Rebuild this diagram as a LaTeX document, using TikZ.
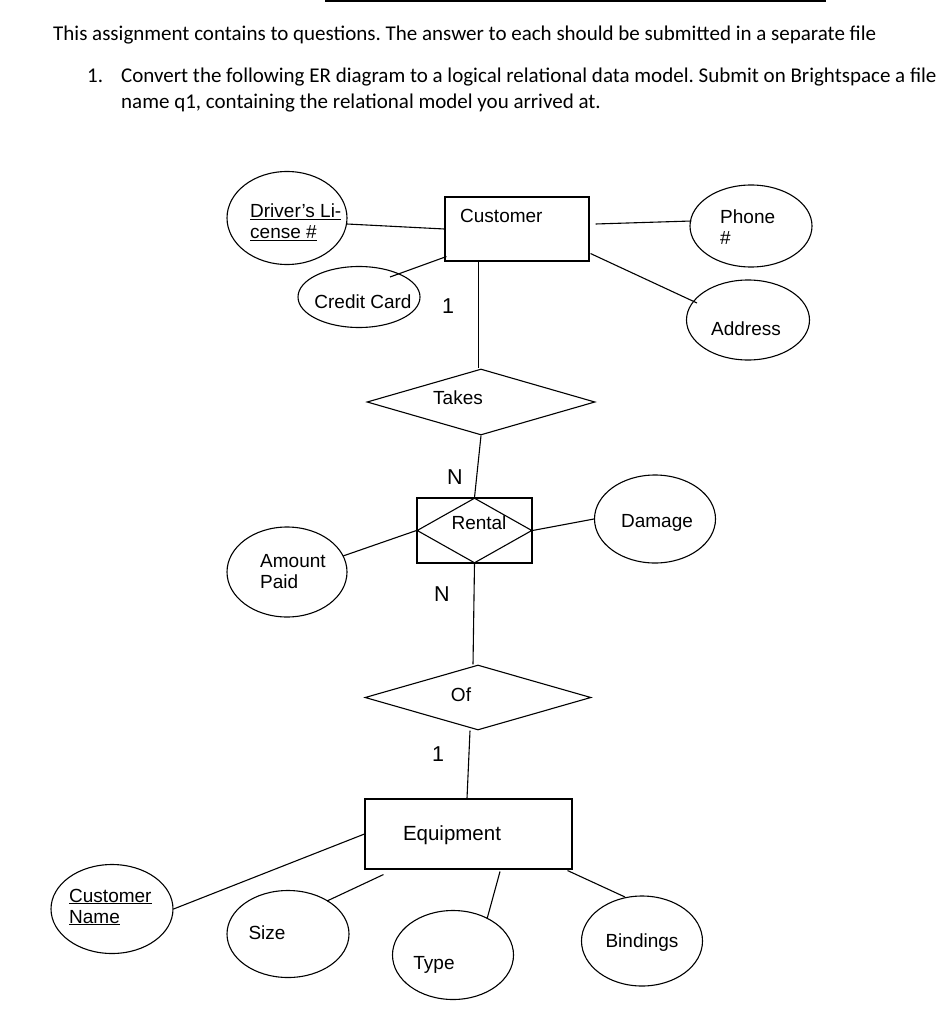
\documentclass[tikz,border=0pt]{standalone}
\usepackage{fontspec}
\setmainfont{Liberation Sans}
\newfontfamily\hdrfont{Carlito}
\usetikzlibrary{shapes.geometric,calc}
\frenchspacing
\begin{document}
\begin{tikzpicture}[x=1pt,y=-1pt,
  every node/.style={font=\fontsize{19}{21}\selectfont},
  attr/.style={draw,ellipse,line width=1.1pt,inner sep=0pt},
  ent/.style={draw,rectangle,line width=1.1pt,inner sep=0pt},
  rel/.style={draw,diamond,line width=1.1pt,inner sep=0pt},
  lbl/.style={inner sep=0pt,align=left},
  card/.style={inner sep=0pt,font=\fontsize{21.5}{24}\selectfont},
  hdr/.style={inner sep=0pt,anchor=base west,font=\hdrfont\fontsize{21}{24}\selectfont},
  conn/.style={line width=1.1pt}]
\useasboundingbox (0,0) rectangle (948,1024);
\fill[white] (0,0) rectangle (948,1024);
% top rule
\coordinate (ruleA) at (325,1.5);
\coordinate (ruleB) at (826,1.5);
\draw[line width=2pt] (ruleA) -- (ruleB);
% header
\node[hdr] (h1) at (53,40.5) {This assignment contains to questions. The answer to each should be submitted in a separate file};
\node[hdr] (h2n) at (87,83) {1.};
\node[hdr] (h2) at (121,83) {Convert the following ER diagram to a logical relational data model. Submit on Brightspace a file};
\node[hdr] (h3) at (121,109) {name q1, containing the relational model you arrived at.};
% entities
\node[ent,minimum width=144,minimum height=64] (cust) at (517,229) {};
\node[lbl,anchor=west] (custT) at (460,216) {Customer};
\node[ent,minimum width=207,minimum height=70] (equip) at (468.5,834) {};
\node[lbl,font=\fontsize{20.5}{23}\selectfont] (equipT) at (452,835) {Equipment};
\node[ent,minimum width=115,minimum height=65] (rent) at (474.5,530.5) {};
\node[rel,minimum width=115,minimum height=65] (rentD) at (474.5,530.5) {};
\node[lbl] (rentT) at (479,523) {Rental};
% relationships
\node[rel,minimum width=228,minimum height=66] (takes) at (481,402) {};
\node[lbl] (takesT) at (458,398) {Takes};
\node[rel,minimum width=226,minimum height=65] (of) at (478,697.5) {};
\node[lbl] (ofT) at (461,695) {Of};
% attributes
\node[attr,minimum width=120,minimum height=93] (dl) at (287,218) {};
\node[lbl,anchor=west] (dlT) at (250,222) {\underline{Driver's Li-}\\\underline{cense \#}};
\node[attr,minimum width=122,minimum height=61] (cc) at (359,297) {};
\node[lbl] (ccT) at (363,302) {Credit Card};
\node[attr,minimum width=122,minimum height=82] (ph) at (751,226) {};
\node[lbl,anchor=west] (phT) at (720,227) {Phone\\\#};
\node[attr,minimum width=123,minimum height=80] (addr) at (748,320) {};
\node[lbl] (addrT) at (746,329) {Address};
\node[attr,minimum width=121,minimum height=88] (dmg) at (655,519) {};
\node[lbl] (dmgT) at (657,523) {Damage};
\node[attr,minimum width=120,minimum height=90] (amt) at (287,572) {};
\node[lbl,anchor=west] (amtT) at (260,572) {Amount\\Paid};
\node[attr,minimum width=122,minimum height=89] (cn) at (112,909) {};
\node[lbl,anchor=west] (cnT) at (69,907) {\underline{Customer}\\\underline{Name}};
\node[attr,minimum width=122,minimum height=87] (sz) at (288,934) {};
\node[lbl] (szT) at (267,933) {Size};
\node[attr,minimum width=121,minimum height=89] (ty) at (453,955) {};
\node[lbl] (tyT) at (434,965) {Type};
\node[attr,minimum width=121,minimum height=90] (bd) at (642,941) {};
\node[lbl] (bdT) at (642,943) {Bindings};
% cardinalities
\node[card] (c1) at (448,306) {1};
\node[card] (cN1) at (455,477) {N};
\node[card] (cN2) at (442,594) {N};
\node[card] (c2) at (438,754) {1};
% connectors
\draw[conn] ($(dl.center)+(60,6)$) -- (cust.west);
\draw[conn] ($(cc.center)+(31,-20)$) -- ($(cust.south west)+(2,-5)$);
\draw[conn] ($(cust.east)+(6,-5)$) -- ($(ph.west)+(2,-5)$);
\draw[conn] ($(cust.south east)+(1,-8)$) -- ($(addr.center)+(-51,-17)$);
\draw[conn] ($(takes.north |- cust.south)+(-2.5,0)$) -- ($(takes.north)+(-2.5,0)$);
\draw[conn] (takes.south) -- (rentD.north);
\draw[conn] ($(amt.center)+(56,-16)$) -- (rentD.west);
\draw[conn] (rentD.east) -- (dmg.west);
\draw[conn] (rentD.south) -- ($(of.north)+(-5,0)$);
\draw[conn] ($(of.south)+(-8,0)$) -- ($(equip.north)+(-1.5,0)$);
\draw[conn] (cn.east) -- (equip.west);
\draw[conn] ($(sz.center)+(39,-33)$) -- ($(equip.south west)+(19,5)$);
\draw[conn] ($(ty.center)+(34,-36)$) -- ($(equip.south)+(31.5,2)$);
\draw[conn] ($(bd.center)+(-17,-44)$) -- ($(equip.south east)+(-5,1)$);
\end{tikzpicture}
\end{document}
